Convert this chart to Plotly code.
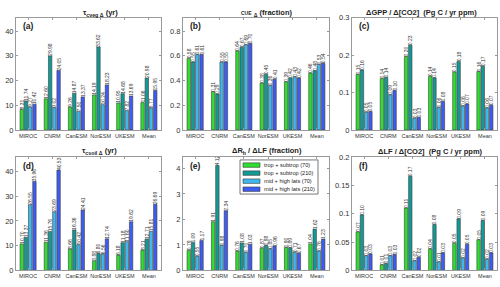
import plotly.graph_objects as go

models = ["MIROC", "CNRM", "CanESM", "NorESM", "UKESM", "Mean"]
series_names = ["trop + subtrop (70)", "trop + subtrop (210)",
                "mid + high lats (70)", "mid + high lats (210)"]

# (a) tau_cveg delta (yr)
cveg_trop70 = [8.31, 12.60, 9.26, 14.19, 10.95, 11.06]
cveg_trop210 = [11.74, 29.98, 14.87, 33.62, 14.68, 20.98]
cveg_mid70 = [9.27, 9.02, 7.50, 10.24, 7.82, 8.77]
cveg_mid210 = [10.42, 24.05, 13.37, 18.23, 13.69, 15.95]

# (b) CUE delta (fraction)
cue_trop70 = [0.58, 0.31, 0.64, 0.38, 0.39, 0.46]
cue_trop210 = [0.55, 0.29, 0.67, 0.45, 0.42, 0.48]
cue_mid70 = [0.61, 0.55, 0.69, 0.36, 0.43, 0.53]
cue_mid210 = [0.61, 0.55, 0.70, 0.41, 0.42, 0.54]

# (c) dGPP / d[CO2]
gpp_trop70 = [0.148, 0.137, 0.196, 0.143, 0.154, 0.156]
gpp_trop210 = [0.160, 0.140, 0.226, 0.139, 0.183, 0.170]
gpp_mid70 = [0.047, 0.094, 0.031, 0.060, 0.064, 0.059]
gpp_mid210 = [0.049, 0.105, 0.033, 0.076, 0.069, 0.066]

# (d) tau_csoil delta (yr)
csoil_trop70 = [10.70, 11.36, 8.66, 3.88, 6.18, 8.21]
csoil_trop210 = [13.37, 15.76, 16.36, 6.80, 11.18, 12.71]
csoil_mid70 = [26.55, 23.69, 10.42, 6.56, 11.60, 15.81]
csoil_mid210 = [35.96, 40.53, 24.41, 12.74, 19.62, 26.69]

# (e) dRh / dLF (fraction)
rh_trop70 = [0.79, 1.91, 0.76, 0.87, 0.90, 1.04]
rh_trop210 = [1.09, 4.12, 1.08, 0.98, 0.89, 1.62]
rh_mid70 = [0.55, 0.98, 0.70, 0.85, 0.71, 0.76]
rh_mid210 = [1.17, 2.34, 1.03, 0.96, 0.67, 1.23]

# (f) dLF / d[CO2]
lf_trop70 = [0.068, 0.010, 0.110, 0.038, 0.048, 0.054]
lf_trop210 = [0.098, 0.012, 0.166, 0.081, 0.091, 0.088]
lf_mid70 = [0.026, 0.026, 0.017, 0.015, 0.022, 0.020]
lf_mid210 = [0.029, 0.028, 0.023, 0.031, 0.046, 0.031]

colors = ["#2ee02e", "#129a96", "#40b8ee", "#3d5cf2"]
FONT = "Liberation Sans, Arial, sans-serif"
W, H = 500, 287

panels = [
    dict(series=[cveg_trop70, cveg_trop210, cveg_mid70, cveg_mid210],
         x=(16, 161), y=(14, 130), yr=45.5, dt=10, label="(a)",
         title="<b>τ<sub>cveg Δ</sub> (yr)</b>", tx=81, ty=9, anchor="left"),
    dict(series=[cue_trop70, cue_trop210, cue_mid70, cue_mid210],
         x=(183, 329), y=(14, 130), yr=0.91, dt=0.2, label="(b)",
         title="<b><span style='font-size:5px'>CUE</span> <sub>Δ</sub> (fraction)</b>",
         tx=239, ty=9, anchor="left"),
    dict(series=[gpp_trop70, gpp_trop210, gpp_mid70, gpp_mid210],
         x=(352, 497), y=(14, 130), yr=0.3, dt=0.1, label="(c)",
         title="<b>ΔGPP / Δ[CO2]  (Pg C / yr ppm)</b>", tx=421, ty=9, anchor="center"),
    dict(series=[csoil_trop70, csoil_trop210, csoil_mid70, csoil_mid210],
         x=(16, 161), y=(158, 275), yr=45.8, dt=10, label="(d)",
         title="<b>τ<sub>csoil Δ</sub> (yr)</b>", tx=80, ty=152, anchor="left"),
    dict(series=[rh_trop70, rh_trop210, rh_mid70, rh_mid210],
         x=(183, 329), y=(158, 275), yr=4.45, dt=1, label="(e)",
         title="<b>ΔR<sub>h</sub> / ΔLF (fraction)</b>", tx=267, ty=152, anchor="center"),
    dict(series=[lf_trop70, lf_trop210, lf_mid70, lf_mid210],
         x=(352, 497), y=(158, 275), yr=0.2, dt=0.05, label="(f)",
         title="<b>ΔLF / Δ[CO2]  (Pg C / yr ppm)</b>", tx=430, ty=152, anchor="center"),
]

fig = go.Figure()
annotations = []
shapes = []
layout = {}

for i, p in enumerate(panels):
    n = i + 1
    xa = "x" if n == 1 else f"x{n}"
    ya = "y" if n == 1 else f"y{n}"
    for s, vals in enumerate(p["series"]):
        fig.add_trace(go.Bar(
            x=models, y=vals, xaxis=xa, yaxis=ya,
            name=series_names[s], showlegend=False,
            marker=dict(color=colors[s], line=dict(color="#3a3a3a", width=0.6)),
            texttemplate="%{y:.2f}", textposition="outside", textangle=-90,
            textfont=dict(size=5, color="#333333", family=FONT),
            constraintext="none", cliponaxis=False,
        ))
    xd = [p["x"][0] / W, p["x"][1] / W]
    yd = [1 - p["y"][1] / H, 1 - p["y"][0] / H]
    layout["xaxis" if n == 1 else f"xaxis{n}"] = dict(
        domain=xd, anchor=ya, type="category", range=[-0.5, 5.5],
        showline=True, linecolor="#9a9a9a", linewidth=1, mirror="ticks",
        ticks="inside", ticklen=2, tickcolor="#9a9a9a", tickangle=0,
        tickfont=dict(size=5.5, color="#333333", family=FONT), fixedrange=True,
    )
    layout["yaxis" if n == 1 else f"yaxis{n}"] = dict(
        domain=yd, anchor=xa, range=[0, p["yr"]], dtick=p["dt"], tick0=0,
        showline=True, linecolor="#9a9a9a", linewidth=1, mirror="ticks",
        ticks="inside", ticklen=2, tickcolor="#9a9a9a", showgrid=False,
        zeroline=False, tickfont=dict(size=7.5, color="#333333", family=FONT),
    )
    annotations.append(dict(
        text=p["title"], x=p["tx"] / W, y=1 - p["ty"] / H, xref="paper", yref="paper",
        xanchor=p["anchor"], yanchor="middle", showarrow=False,
        font=dict(size=7.5, color="#222222", family=FONT),
    ))
    annotations.append(dict(
        text="<b>" + p["label"] + "</b>", x=(p["x"][0] + 5) / W, y=1 - (p["y"][0] + 9) / H,
        xref="paper", yref="paper", xanchor="left", yanchor="middle", showarrow=False,
        font=dict(size=8.5, color="#222222", family=FONT),
    ))

# legend (drawn inside panel e)
lx0, lx1, ly0 = 240, 318, 161
row_h = 8.3
shapes.append(dict(type="rect", xref="paper", yref="paper",
                   x0=lx0 / W, x1=lx1 / W, y0=1 - (ly0 + 4 * row_h + 2) / H, y1=1 - ly0 / H,
                   line=dict(color="#555555", width=0.8), fillcolor="white"))
for s, name in enumerate(series_names):
    cy = ly0 + 5.3 + s * row_h
    shapes.append(dict(type="rect", xref="paper", yref="paper",
                       x0=(lx0 + 3) / W, x1=(lx0 + 20) / W,
                       y0=1 - (cy + 2.3) / H, y1=1 - (cy - 2.3) / H,
                       line=dict(color="#3a3a3a", width=0.6), fillcolor=colors[s]))
    annotations.append(dict(
        text=name, x=(lx0 + 22) / W, y=1 - cy / H, xref="paper", yref="paper",
        xanchor="left", yanchor="middle", showarrow=False,
        font=dict(size=5.6, color="#222222", family=FONT),
    ))

fig.update_layout(
    width=W, height=H, margin=dict(l=0, r=0, t=0, b=0),
    paper_bgcolor="white", plot_bgcolor="white",
    barmode="group", bargap=0.3, bargroupgap=0.2,
    font=dict(family=FONT), annotations=annotations, shapes=shapes,
    **layout,
)

fig.write_html("out.html", config={"displayModeBar": False},
               post_script="document.body.style.margin='0';")
